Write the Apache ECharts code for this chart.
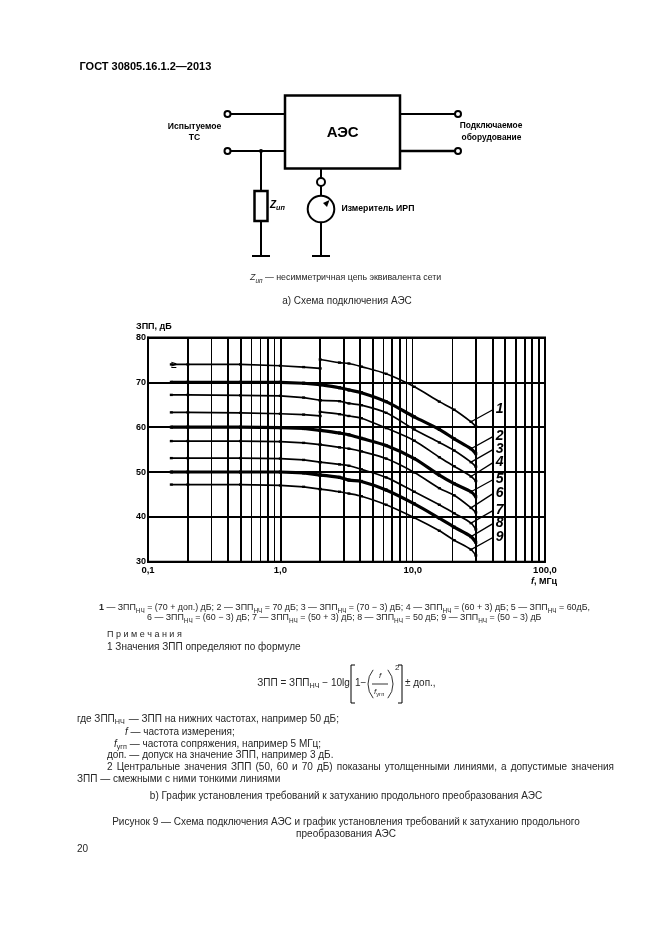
<!DOCTYPE html>
<html>
<head>
<meta charset="utf-8">
<style>html,body{margin:0;padding:0;background:#fff}#main{width:661px;height:935px}</style>
<script src="https://cdn.jsdelivr.net/npm/echarts@6/dist/echarts.min.js"></script>
</head>
<body>
<div id="main"></div>
<script>
// частоты, МГц
var lowFreq = [0.15, 0.2, 0.5, 1, 1.5, 2];
var highFreq = [2, 2.8, 3.3, 4.1, 6.3, 10.3, 15.9, 20.6, 27.6, 30];

var curve1Low = [74, 74, 74, 73.7, 73.4, 73.1];
var curve2Low = [70, 70, 70, 70, 69.8, 69.5];
var curve3Low = [67.2, 67.2, 67.1, 67, 66.6, 66];
var curve4Low = [63.3, 63.3, 63.2, 63, 62.8, 62.5];
var curve5Low = [60, 60, 60, 59.9, 59.7, 59.3];
var curve6Low = [56.9, 56.9, 56.9, 56.8, 56.5, 56.1];
var curve7Low = [53.1, 53.1, 53.1, 53, 52.7, 52.2];
var curve8Low = [50, 50, 50, 50, 49.8, 49.3];
var curve9Low = [47.2, 47.2, 47.2, 47, 46.7, 46.2];

var curve1High = [75.1, 74.4, 74.2, 73.5, 71.9, 69, 65.7, 63.9, 61.2, 60.2];
var curve2High = [69.5, 68.8, 68.3, 67.7, 65.7, 62.3, 59.5, 57.4, 55.2, 54.1];
var curve3High = [66, 65.8, 65.3, 64.9, 63.2, 59.5, 56.6, 54.8, 52.2, 51.2];
var curve4High = [63.4, 62.9, 62.5, 62, 59.8, 57, 53.3, 51.3, 49, 48];
var curve5High = [59.3, 58.7, 58.3, 57.5, 55.9, 53, 49.3, 47.4, 45.6, 44.5];
var curve6High = [56.1, 55.5, 55.2, 54.6, 53, 49.9, 46.4, 44.8, 42, 41];
var curve7High = [52.2, 51.7, 51.4, 50.6, 48.8, 45.6, 42.7, 40.8, 38.6, 37.2];
var curve8High = [49.3, 48.8, 48.2, 47.9, 46, 42.9, 39.7, 37.7, 35.6, 34.3];
var curve9High = [46.2, 45.6, 45.2, 44.6, 42.7, 39.8, 36.9, 34.8, 32.7, 31.4];

var curvesLow = [curve1Low, curve2Low, curve3Low, curve4Low, curve5Low, curve6Low, curve7Low, curve8Low, curve9Low];
var curvesHigh = [curve1High, curve2High, curve3High, curve4High, curve5High, curve6High, curve7High, curve8High, curve9High];
var curveNames = ['1', '2', '3', '4', '5', '6', '7', '8', '9'];
var boldCurves = ['2', '5', '8'];

// выноски к номерам кривых
var leaderFreq = [27.6, 41];
var leaderEnd = [64, 58, 55.1, 52.2, 48.4, 45.3, 41.5, 38.6, 35.5];

// вертикальная сетка
var gridThick = [0.2, 0.4, 0.5, 0.8, 1, 2, 3, 4, 5, 7, 8, 30, 40, 50, 60, 70, 80, 90];
var gridThin = [0.3, 0.6, 0.7, 0.9, 6, 9, 10, 20];
var xTickLabels = ['0,1', '1,0', '10,0', '100,0'];

var FONT = '"Liberation Sans", Arial, sans-serif';
var INK = '#000';
var TEXT = '#262626';

var measureCtx = document.createElement('canvas').getContext('2d');
function fontOf(o) {
  return (o.italic ? 'italic ' : '') + (o.bold ? 'bold ' : '') + o.size + 'px ' + FONT;
}
function widthOf(str, o) {
  measureCtx.font = fontOf(o);
  return measureCtx.measureText(str).width;
}

var g = [];
function text(x, y, str, o) {
  g.push({
    type: 'text', x: x, y: y, silent: true, z: 10,
    style: {
      text: str, font: fontOf(o), fill: o.color || TEXT,
      textAlign: o.align || 'left', textVerticalAlign: 'middle'
    }
  });
}
// строка из кусков: индекс "НЧ" и обычный текст подряд
function runs(x, y, parts, size, color) {
  parts.forEach(function (p) {
    var o = { size: p.sub ? size * 0.72 : size, italic: p.italic, bold: p.bold, color: color };
    text(x, p.sub ? y + size * 0.32 : y, p.t, o);
    x += widthOf(p.t, o);
  });
  return x;
}
function justify(x0, x1, y, str, size) {
  var words = str.split(' ');
  var total = 0;
  words.forEach(function (w) { total += widthOf(w, { size: size }); });
  var gap = (x1 - x0 - total) / (words.length - 1);
  var x = x0;
  words.forEach(function (w) {
    text(x, y, w, { size: size });
    x += widthOf(w, { size: size }) + gap;
  });
}
function line(x1, y1, x2, y2, w) {
  g.push({ type: 'line', silent: true, shape: { x1: x1, y1: y1, x2: x2, y2: y2 }, style: { stroke: INK, lineWidth: w || 2 } });
}
function ring(cx, cy, r, w) {
  g.push({ type: 'circle', silent: true, z: 5, shape: { cx: cx, cy: cy, r: r }, style: { stroke: INK, fill: '#fff', lineWidth: w || 2 } });
}

// шапка
text(79.5, 67, 'ГОСТ 30805.16.1.2—2013', { size: 11, bold: true, color: INK });

// схема подключения
g.push({ type: 'rect', silent: true, shape: { x: 285, y: 95.5, width: 115, height: 73 }, style: { stroke: INK, fill: '#fff', lineWidth: 2.5 } });
line(227, 114, 285, 114);
line(227, 151, 285, 151);
line(400, 114, 458, 114);
line(400, 151, 458, 151, 2.5);
ring(227.5, 114, 3);
ring(227.5, 151, 3);
ring(458, 114, 3);
ring(458, 151, 3);
g.push({ type: 'circle', silent: true, shape: { cx: 261, cy: 151, r: 2 }, style: { fill: INK } });
line(261, 151, 261, 256);
g.push({ type: 'rect', silent: true, z: 5, shape: { x: 254.5, y: 191, width: 13, height: 30 }, style: { stroke: INK, fill: '#fff', lineWidth: 2.5 } });
line(252, 256, 270, 256);
line(321, 168, 321, 256);
ring(321, 182, 4);
ring(321, 209, 13.3);
line(312.5, 217.5, 329, 200.5);
g.push({ type: 'polygon', silent: true, z: 6, shape: { points: [[329.5, 200], [323, 203], [327, 207]] }, style: { fill: INK } });
line(312, 256, 330, 256);

text(342.7, 132.5, 'АЭС', { size: 15, bold: true, align: 'center', color: INK });
text(194.5, 127, 'Испытуемое', { size: 8.6, bold: true, align: 'center', color: INK });
text(194.5, 138, 'ТС', { size: 8.6, bold: true, align: 'center', color: INK });
text(491, 126, 'Подключаемое', { size: 8.4, bold: true, align: 'center', color: INK });
text(491.5, 137.5, 'оборудование', { size: 8.4, bold: true, align: 'center', color: INK });
runs(270, 205, [{ t: 'Z', italic: true, bold: true }, { t: 'ип', sub: true, italic: true, bold: true }], 10, INK);
text(341.5, 209, 'Измеритель ИРП', { size: 8.7, bold: true, color: INK });
runs(250, 278, [{ t: 'Z', italic: true }, { t: 'ип', sub: true, italic: true }, { t: ' — несимметричная цепь эквивалента сети' }], 8.85);
text(347, 301, 'а) Схема подключения АЭС', { size: 10, align: 'center' });

// подпись к кривым
var sub = { t: 'НЧ', sub: true };
var legendSize = 8.9;
runs(99, 608, [{ t: '1', bold: true }, { t: ' — ЗПП' }, sub, { t: ' = (70 + доп.) дБ; 2 — ЗПП' }, sub, { t: ' = 70 дБ; 3 — ЗПП' }, sub,
  { t: ' = (70 − 3) дБ; 4 — ЗПП' }, sub, { t: ' = (60 + 3) дБ; 5 — ЗПП' }, sub, { t: ' = 60дБ,' }], legendSize);
runs(147, 618, [{ t: '6 — ЗПП' }, sub, { t: ' = (60 − 3) дБ; 7 — ЗПП' }, sub, { t: ' = (50 + 3) дБ; 8 — ЗПП' }, sub, { t: ' = 50 дБ; 9 — ЗПП' }, sub, { t: ' = (50 − 3) дБ' }], legendSize);

// примечания
var bodySize = 10;
text(107, 635, 'П р и м е ч а н и я', { size: 9 });
text(107, 647, '1 Значения ЗПП определяют по формуле', { size: bodySize });

// формула
runs(257.3, 683, [{ t: 'ЗПП = ЗПП' }, sub, { t: ' − 10lg' }], bodySize);
text(355, 683, '1−', { size: bodySize });
text(380, 676, 'f', { size: 8, italic: true, align: 'center' });
line(372, 684, 388, 684, 0.8);
runs(374, 692, [{ t: 'f', italic: true }, { t: 'угп', sub: true }], 8);
// квадратные и круглые скобки
[[351, 665, 703, 1], [402, 665, 703, -1]].forEach(function (b) {
  line(b[0], b[1], b[0], b[2], 1);
  line(b[0], b[1], b[0] + 4 * b[3], b[1], 1);
  line(b[0], b[2], b[0] + 4 * b[3], b[2], 1);
});
g.push({ type: 'arc', silent: true, shape: { cx: 390, cy: 684, r: 22, startAngle: 2.44, endAngle: 3.84 }, style: { stroke: INK, lineWidth: 0.8, fill: 'none' } });
g.push({ type: 'arc', silent: true, shape: { cx: 371, cy: 684, r: 22, startAngle: -0.7, endAngle: 0.7 }, style: { stroke: INK, lineWidth: 0.8, fill: 'none' } });
text(395, 668, '2', { size: 8 });
text(405, 683, '± доп.,', { size: bodySize });

// пояснения
var x1 = runs(77, 719, [{ t: 'где ЗПП' }, sub], bodySize);
text(x1 + 4, 719, '— ЗПП на нижних частотах, например 50 дБ;', { size: bodySize });
runs(125, 732, [{ t: 'f', italic: true }, { t: ' — частота измерения;' }], bodySize);
runs(114, 744, [{ t: 'f', italic: true }, { t: 'угп', sub: true }, { t: ' — частота сопряжения, например 5 МГц;' }], bodySize);
text(107, 755, 'доп. — допуск на значение ЗПП, например 3 дБ.', { size: bodySize });
justify(107, 614, 767, '2 Центральные значения ЗПП (50, 60 и 70 дБ) показаны утолщенными линиями, а допустимые значения', bodySize);
text(77, 779, 'ЗПП — смежными с ними тонкими линиями', { size: bodySize });
text(346, 796.5, 'b) График установления требований к затуханию продольного преобразования АЭС', { size: bodySize, align: 'center' });
text(346, 822, 'Рисунок 9 — Схема подключения АЭС и график установления требований к затуханию продольного', { size: bodySize, align: 'center' });
text(346, 834, 'преобразования АЭС', { size: bodySize, align: 'center' });
text(77, 849, '20', { size: bodySize });

// значок у кривой 1
text(174, 365, '≥', { size: 10, bold: true, align: 'center', color: INK });

function toPairs(xs, ys) {
  return xs.map(function (x, i) { return [x, ys[i]]; });
}
function gridSeries(freqs, width) {
  return {
    type: 'line', data: [], silent: true, z: 1,
    markLine: {
      silent: true, symbol: 'none', animation: false, label: { show: false },
      lineStyle: { color: INK, type: 'solid', width: width },
      data: freqs.map(function (f) { return { xAxis: f }; })
    }
  };
}

var series = [gridSeries(gridThick, 2), gridSeries(gridThin, 1)];
curveNames.forEach(function (name, i) {
  var bold = boldCurves.indexOf(name) >= 0;
  var style = { color: INK, width: bold ? 3.2 : 1.7 };
  var mark = [3, bold ? 3.2 : 2.4];
  series.push({
    name: name + ' low', type: 'line', z: 3, data: toPairs(lowFreq, curvesLow[i]),
    symbol: 'rect', symbolSize: mark, showSymbol: true, itemStyle: { color: INK }, lineStyle: style
  });
  series.push({
    name: name + ' high', type: 'line', z: 3, smooth: 0.3, data: toPairs(highFreq, curvesHigh[i]),
    symbol: 'rect', symbolSize: mark, showSymbol: true, itemStyle: { color: INK }, lineStyle: style
  });
  // выноска с номером
  series.push({
    name: name, type: 'line', z: 3, symbol: 'none',
    data: toPairs(leaderFreq, [curvesHigh[i][8], leaderEnd[i]]),
    lineStyle: { color: INK, width: 1.3 },
    endLabel: {
      show: true, formatter: name, color: INK, distance: 2,
      fontFamily: FONT, fontSize: 14, fontWeight: 'bold', fontStyle: 'italic'
    }
  });
});

var chart = echarts.init(document.getElementById('main'), null, { renderer: 'canvas' });
chart.setOption({
  animation: false,
  backgroundColor: '#fff',
  grid: { left: 148, top: 337.5, width: 397, height: 224.2, show: true, borderColor: INK, borderWidth: 2 },
  xAxis: {
    type: 'log', logBase: 10, min: 0.1, max: 100,
    name: '{i|f}, МГц', nameLocation: 'end', nameGap: -14,
    nameTextStyle: {
      color: INK, fontFamily: FONT, fontSize: 9, fontWeight: 'bold', verticalAlign: 'top', padding: [15, 0, 0, 0],
      rich: { i: { fontStyle: 'italic', fontWeight: 'bold', fontSize: 9, fontFamily: FONT, color: INK } }
    },
    axisLine: { show: true, onZero: false, lineStyle: { color: INK, width: 2 } },
    axisTick: { show: false },
    splitLine: { show: false },
    minorSplitLine: { show: false },
    axisLabel: {
      color: INK, fontFamily: FONT, fontSize: 9.5, fontWeight: 'bold', margin: 4,
      formatter: function (v) { return xTickLabels[Math.round(Math.log10(v)) + 1]; }
    }
  },
  yAxis: {
    type: 'value', min: 30, max: 80, interval: 10,
    name: 'ЗПП, дБ', nameLocation: 'end', nameGap: 6,
    nameTextStyle: { color: INK, fontFamily: FONT, fontSize: 9, fontWeight: 'bold', align: 'left', padding: [0, 0, 0, -12] },
    axisLine: { show: true, lineStyle: { color: INK, width: 2 } },
    axisTick: { show: false },
    splitLine: { show: true, lineStyle: { color: INK, width: 2 } },
    axisLabel: { color: INK, fontFamily: FONT, fontSize: 9, fontWeight: 'bold', margin: 2 }
  },
  series: series,
  graphic: g
});
</script>
</body>
</html>
